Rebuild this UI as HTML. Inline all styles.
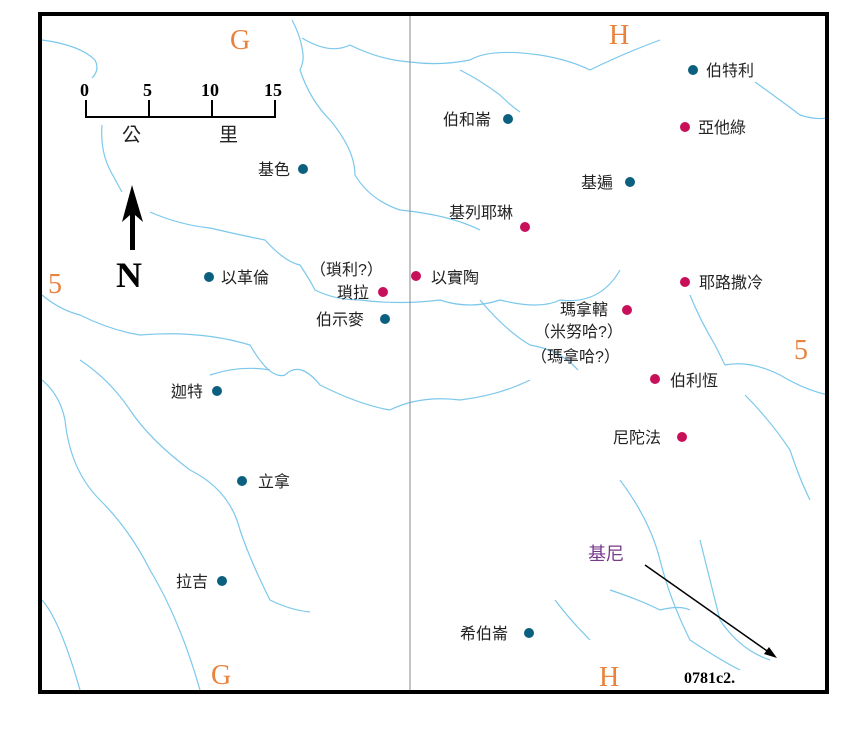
<!DOCTYPE html><html><head><meta charset="utf-8"><style>
body{margin:0;background:#fff}
svg{display:block}
text{font-family:"Liberation Sans","Noto Sans CJK TC",sans-serif;font-size:16px;fill:#222}
.o{font-family:"Liberation Serif",serif;fill:#e8823c;font-size:28px}
.s{font-family:"Liberation Serif",serif;font-weight:bold;font-size:18px;fill:#000}
</style></head><body>
<svg width="863" height="743" viewBox="0 0 863 743">
<rect width="863" height="743" fill="#fff"/>
<g fill="none" stroke="#7cc8ec" stroke-width="1.2">
<path d="M42 40 Q80 45 95 60 Q100 70 92 78"/>
<path d="M102 125 Q100 150 110 170 Q118 185 122 192"/>
<path d="M150 212 Q180 225 210 228 Q240 235 265 240 Q285 262 300 265 Q310 280 315 290 Q335 300 360 300 Q400 305 440 300 Q470 310 500 300 Q540 310 560 300 Q600 305 620 270"/>
<path d="M480 300 Q505 330 530 345 Q560 350 578 370"/>
<path d="M292 20 Q300 35 302 48 Q305 60 300 70 Q310 100 330 120 Q355 150 355 175 Q370 200 400 210 Q450 215 480 230"/>
<path d="M302 38 Q330 55 350 45 Q380 60 410 62 Q440 66 470 60 Q490 48 540 55 Q570 60 590 70 Q620 55 660 40"/>
<path d="M460 70 Q480 80 500 95 Q510 105 520 112"/>
<path d="M755 82 Q780 100 800 115 Q815 120 828 118"/>
<path d="M690 295 Q700 320 715 345 Q720 355 725 365 Q750 360 780 375 Q805 390 828 395"/>
<path d="M42 295 Q60 310 80 315 Q110 330 140 335 Q200 330 250 345 Q270 380 285 375 Q300 360 320 385 Q360 405 390 410 Q420 395 460 400 Q500 395 530 380"/>
<path d="M210 375 Q240 365 270 370"/>
<path d="M42 380 Q60 395 65 420 Q70 470 100 500 Q130 530 150 570 Q180 620 200 690"/>
<path d="M80 360 Q110 380 130 410 Q150 440 190 470 Q230 490 240 530 Q250 560 270 600 Q290 610 310 612"/>
<path d="M42 600 Q60 620 80 690"/>
<path d="M745 395 Q770 420 790 450 Q800 480 810 500"/>
<path d="M620 480 Q650 520 660 560 Q670 600 690 640 Q720 660 740 670"/>
<path d="M700 540 Q710 580 720 620 Q740 650 770 660"/>
<path d="M610 590 Q640 600 660 610 Q680 605 690 610"/>
<path d="M555 600 Q570 620 590 640"/>
</g>
<line x1="410" y1="14" x2="410" y2="692" stroke="#888" stroke-width="1"/>
<rect x="40" y="14" width="787" height="678" fill="none" stroke="#000" stroke-width="4"/>
<text class="o" x="230" y="49">G</text><text class="o" x="609" y="44">H</text>
<text class="o" x="211" y="684">G</text><text class="o" x="599" y="686">H</text>
<text class="o" x="48" y="293">5</text><text class="o" x="794" y="359">5</text>
<g stroke="#000" stroke-width="2" fill="none"><path d="M86 100V117H275V100M149 100V117M212 100V117"/></g>
<text class="s" x="80" y="96">0</text><text class="s" x="143" y="96">5</text><text class="s" x="201" y="96">10</text><text class="s" x="264" y="96">15</text>
<text x="122" y="141" style="font-size:19px">公</text><text x="219" y="141" style="font-size:19px">里</text>
<path d="M132 185 L122 222 L130 215 L130 250 L135 250 L135 215 L143 222Z" fill="#000"/>
<text x="116" y="287" style="font-family:'Liberation Serif',serif;font-weight:bold;font-size:36px;fill:#000">N</text>
<g fill="#0b5f7f">
<circle cx="303" cy="169" r="5"/><circle cx="209" cy="277" r="5"/><circle cx="385" cy="319" r="5"/><circle cx="217" cy="391" r="5"/><circle cx="242" cy="481" r="5"/><circle cx="222" cy="581" r="5"/><circle cx="529" cy="633" r="5"/><circle cx="508" cy="119" r="5"/><circle cx="693" cy="70" r="5"/><circle cx="630" cy="182" r="5"/>
</g>
<g fill="#c8105a">
<circle cx="383" cy="292" r="5"/><circle cx="416" cy="276" r="5"/><circle cx="525" cy="227" r="5"/><circle cx="685" cy="127" r="5"/><circle cx="685" cy="282" r="5"/><circle cx="627" cy="310" r="5"/><circle cx="655" cy="379" r="5"/><circle cx="682" cy="437" r="5"/>
</g>
<text x="258" y="175">基色</text>
<text x="221" y="283">以革倫</text>
<text x="310" y="275">（瑣利?）</text>
<text x="337" y="298">瑣拉</text>
<text x="316" y="325">伯示麥</text>
<text x="431" y="283">以實陶</text>
<text x="171" y="397">迦特</text>
<text x="258" y="487">立拿</text>
<text x="176" y="587">拉吉</text>
<text x="460" y="639">希伯崙</text>
<text x="443" y="125">伯和崙</text>
<text x="706" y="76">伯特利</text>
<text x="698" y="133">亞他綠</text>
<text x="581" y="188">基遍</text>
<text x="449" y="218">基列耶琳</text>
<text x="699" y="288">耶路撒冷</text>
<text x="560" y="315">瑪拿轄</text>
<text x="534" y="337">（米努哈?）</text>
<text x="531" y="362">（瑪拿哈?）</text>
<text x="670" y="386">伯利恆</text>
<text x="613" y="443">尼陀法</text>
<text x="588" y="560" style="fill:#7a3a8a;font-size:18px">基尼</text>
<line x1="645" y1="565" x2="770" y2="653" stroke="#000" stroke-width="1.5"/>
<path d="M777 658 L764 654 L769 647Z" fill="#000"/>
<text x="684" y="683" style="font-family:'Liberation Serif',serif;font-weight:bold;font-size:16px;fill:#000">0781c2.</text>
</svg></body></html>
